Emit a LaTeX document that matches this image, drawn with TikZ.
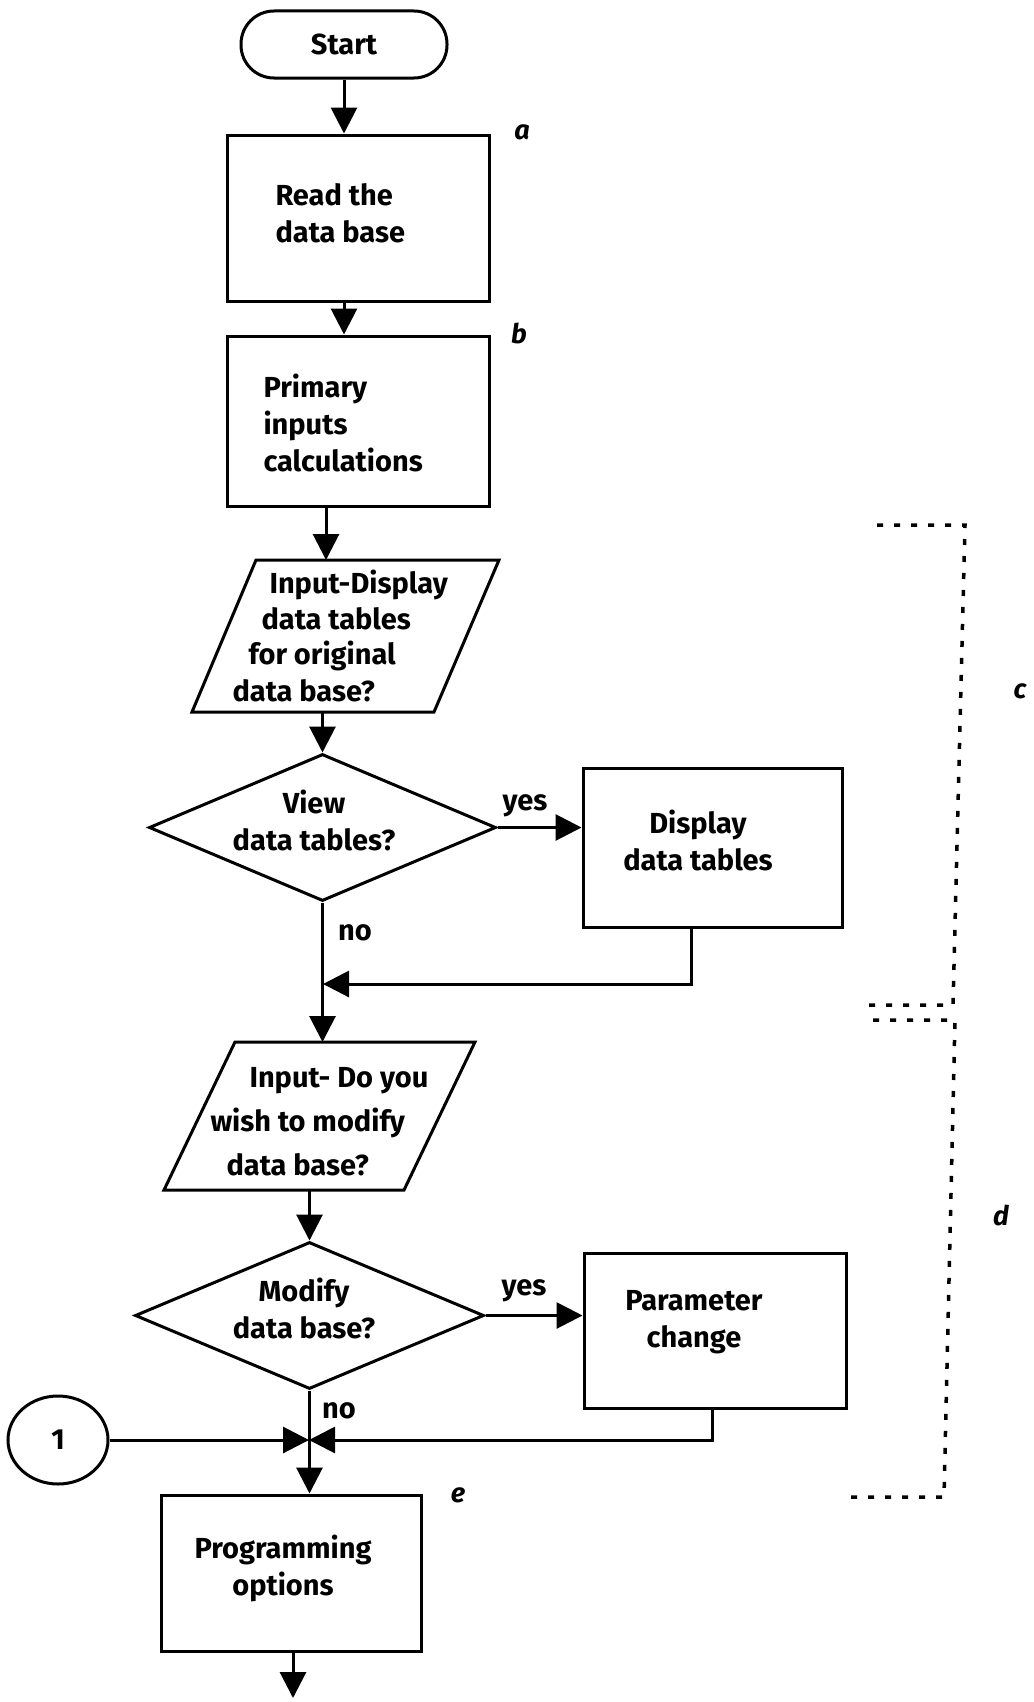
\documentclass[tikz,border=0pt]{standalone}
\usepackage{fontspec}
\setmainfont{Fira Sans}
\usetikzlibrary{arrows.meta,shapes.geometric}

\begin{document}
\begin{tikzpicture}[x=1pt,y=-1pt,
  line width=3pt,
  every node/.style={font=\fontsize{29}{37}\selectfont\bfseries},
  box/.style={draw, rectangle, inner sep=0pt},
  decide/.style={draw, diamond, inner sep=0pt},
  txt/.style={inner sep=0pt, align=left},
  ctxt/.style={inner sep=0pt, align=center},
  arr/.style={-{Triangle[length=26pt,width=26pt]}},
  brk/.style={line width=3.5pt, dash pattern=on 6pt off 11pt},
  tag/.style={inner sep=0pt, font=\fontsize{27}{27}\selectfont\bfseries\itshape}
]
\useasboundingbox (0,0) rectangle (1033,1702);

% boxes and decisions
\node[box, rounded corners=33pt, minimum width=206pt, minimum height=67pt] (start) at (344,44.5) {Start};
\node[box, minimum width=262pt, minimum height=166pt] (a) at (358,218) {};
\node[box, minimum width=262pt, minimum height=170pt] (b) at (358,421) {};
\node[decide, minimum width=347pt, minimum height=147pt] (d1) at (322.5,827.5) {};
\node[box, minimum width=259pt, minimum height=159pt] (disp) at (712.5,847.5) {};
\node[decide, minimum width=349pt, minimum height=147pt] (d2) at (309.5,1315.5) {};
\node[box, minimum width=262pt, minimum height=155pt] (param) at (715,1330.5) {};
\node[box, minimum width=260pt, minimum height=156pt] (prog) at (291,1573) {};
\node[draw, ellipse, inner sep=0pt, minimum width=100pt, minimum height=88pt] (one) at (58,1440) {1};

% input/output parallelograms
\draw (256,560) -- (499,560) -- (434,712) -- (192,712) -- cycle;
\coordinate (p1n) at (326,560);
\coordinate (p1s) at (322.5,712);
\draw (235,1042) -- (475,1042) -- (404,1190) -- (164,1190) -- cycle;
\coordinate (p2n) at (323,1042);
\coordinate (p2s) at (309.5,1190);

% texts
\node[txt, anchor=west] (ta) at (274,213) {Read the\\data base};
\node[txt, anchor=west] (tb) at (262,423) {Primary\\inputs\\calculations};
\node[txt, anchor=base west] (tp1a) at (268,593) {Input-Display};
\node[txt, anchor=base west] (tp1b) at (260,629) {data tables};
\node[txt, anchor=base west] (tp1c) at (247,664) {for original};
\node[txt, anchor=base west] (tp1d) at (231,701) {data base?};
\node[ctxt] (td1) at (314,820) {View\\data tables?};
\node[ctxt] (tdisp) at (698,840) {Display\\data tables};
\node[txt, anchor=base west] (tp2a) at (248,1087) {Input- Do you};
\node[txt, anchor=base west] (tp2b) at (209,1131) {wish to modify};
\node[txt, anchor=base west] (tp2c) at (225,1175) {data base?};
\node[ctxt] (td2) at (304,1308) {Modify\\data base?};
\node[ctxt] (tparam) at (694,1322) {Parameter\\change};
\node[ctxt] (tprog) at (283,1568) {Programming\\options};

% branch labels
\node (yes1) at (525,806) {yes};
\node (no1) at (355,933) {no};
\node (yes2) at (524,1291) {yes};
\node (no2) at (339,1411) {no};

% section tags
\node[tag] (ga) at (522,132) {a};
\node[tag] (gb) at (519,333) {b};
\node[tag] (gc) at (1020,691) {c};
\node[tag] (gd) at (1001,1215) {d};
\node[tag] (ge) at (458,1495) {e};

% junction points
\coordinate (m1) at (323,984);
\coordinate (m2) at (309,1440);
\coordinate (fin) at (293,1698);

% flow
\draw[arr] (start.south) -- (start.south |- a.north);
\draw[arr] ([xshift=-14pt]a.south) -- ([xshift=-14pt]a.south |- b.north);
\draw[arr] (b.south -| p1n) -- (p1n);
\draw[arr] (p1s) -- (d1.north);
\draw[arr] (d1.east) -- (d1.east -| disp.west);
\draw[arr] (d1.south) -- (d1.south |- p2n);
\draw[arr] ([xshift=-21pt]disp.south) |- (m1);
\draw[arr] (p2s) -- (d2.north);
\draw[arr] (d2.east) -- (d2.east -| param.west);
\draw[arr] (d2.south) -- (d2.south |- prog.north);
\draw[arr] ([xshift=-3pt]param.south) |- (m2);
\draw[arr] (one.east) -- (m2);
\draw[arr] (prog.south -| fin) -- (fin);

% dotted brackets
\draw[brk] (877,525) -- (965,525) -- (953,1005) -- (862,1005);
\draw[brk] (873,1020) -- (955,1020) -- (944,1497) -- (850,1497);
\end{tikzpicture}
\end{document}
